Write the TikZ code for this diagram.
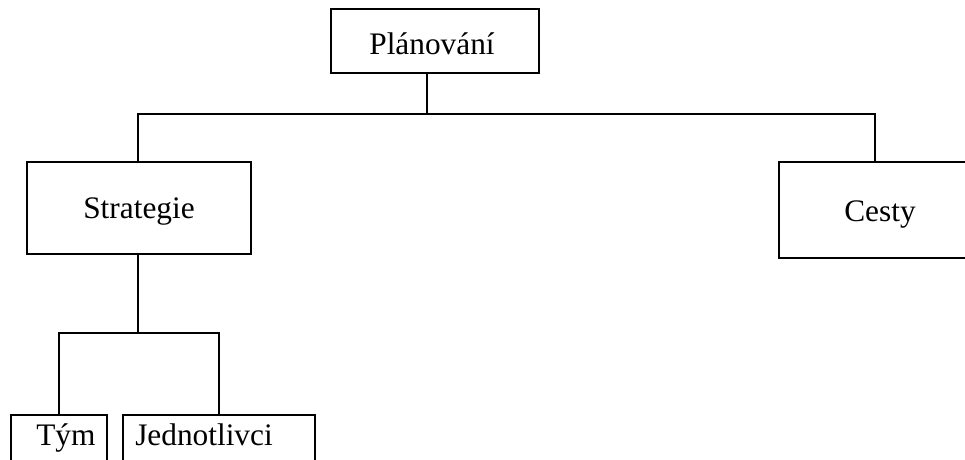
\documentclass[tikz,border=0pt]{standalone}
\usepackage{fontspec}
\setmainfont{Liberation Serif}
\begin{document}
\begin{tikzpicture}[x=0.75pt,y=-0.75pt,
  box/.style={draw=black,line width=1.5pt,rectangle,inner sep=0pt},
  lbl/.style={font=\fontsize{23.5}{28}\selectfont,inner sep=0pt,anchor=base},
  lblw/.style={font=\fontsize{23.5}{28}\selectfont,inner sep=0pt,anchor=base west},
  conn/.style={draw=black,line width=1.5pt,line cap=rect}]
\useasboundingbox (0,0) rectangle (965,460);
\clip (0,0) rectangle (965,460);
\fill[white] (0,0) rectangle (965,460);
% boxes
\node[box,minimum width=156pt,minimum height=48pt] (plan) at (435,41) {};
\node[box,minimum width=168pt,minimum height=69pt] (strat) at (139,208) {};
\node[box,minimum width=151.5pt,minimum height=72pt] (cesty) at (880,210) {};
\node[box,minimum width=72pt,minimum height=60pt,anchor=north] (tym) at (59,414) {};
\node[box,minimum width=144pt,minimum height=60pt,anchor=north] (jedn) at (219,414) {};
% texts
\node[lbl] (tplan) at (432,55) {Plánování};
\node[lbl] (tstrat) at (139,219) {Strategie};
\node[lbl] (tcesty) at (880,221) {Cesty};
\node[lblw] (ttym) at (36,445) {Tým};
\node[lblw] (tjedn) at (135,445) {Jednotlivci};
% junction coordinates
\coordinate (hm) at (427,114);
\coordinate (ha) at (138,114);
\coordinate (hb) at (875,114);
\coordinate (lm) at (138,333);
\coordinate (la) at (59,333);
\coordinate (lb) at (219,333);
% connectors
\draw[conn] (plan.south -| hm) -- (hm);
\draw[conn] (ha |- strat.north) -- (ha) -- (hb) -- (hb |- cesty.north);
\draw[conn] (strat.south -| lm) -- (lm);
\draw[conn] (la |- tym.north) -- (la) -- (lb) -- (lb |- jedn.north);
\end{tikzpicture}
\end{document}
